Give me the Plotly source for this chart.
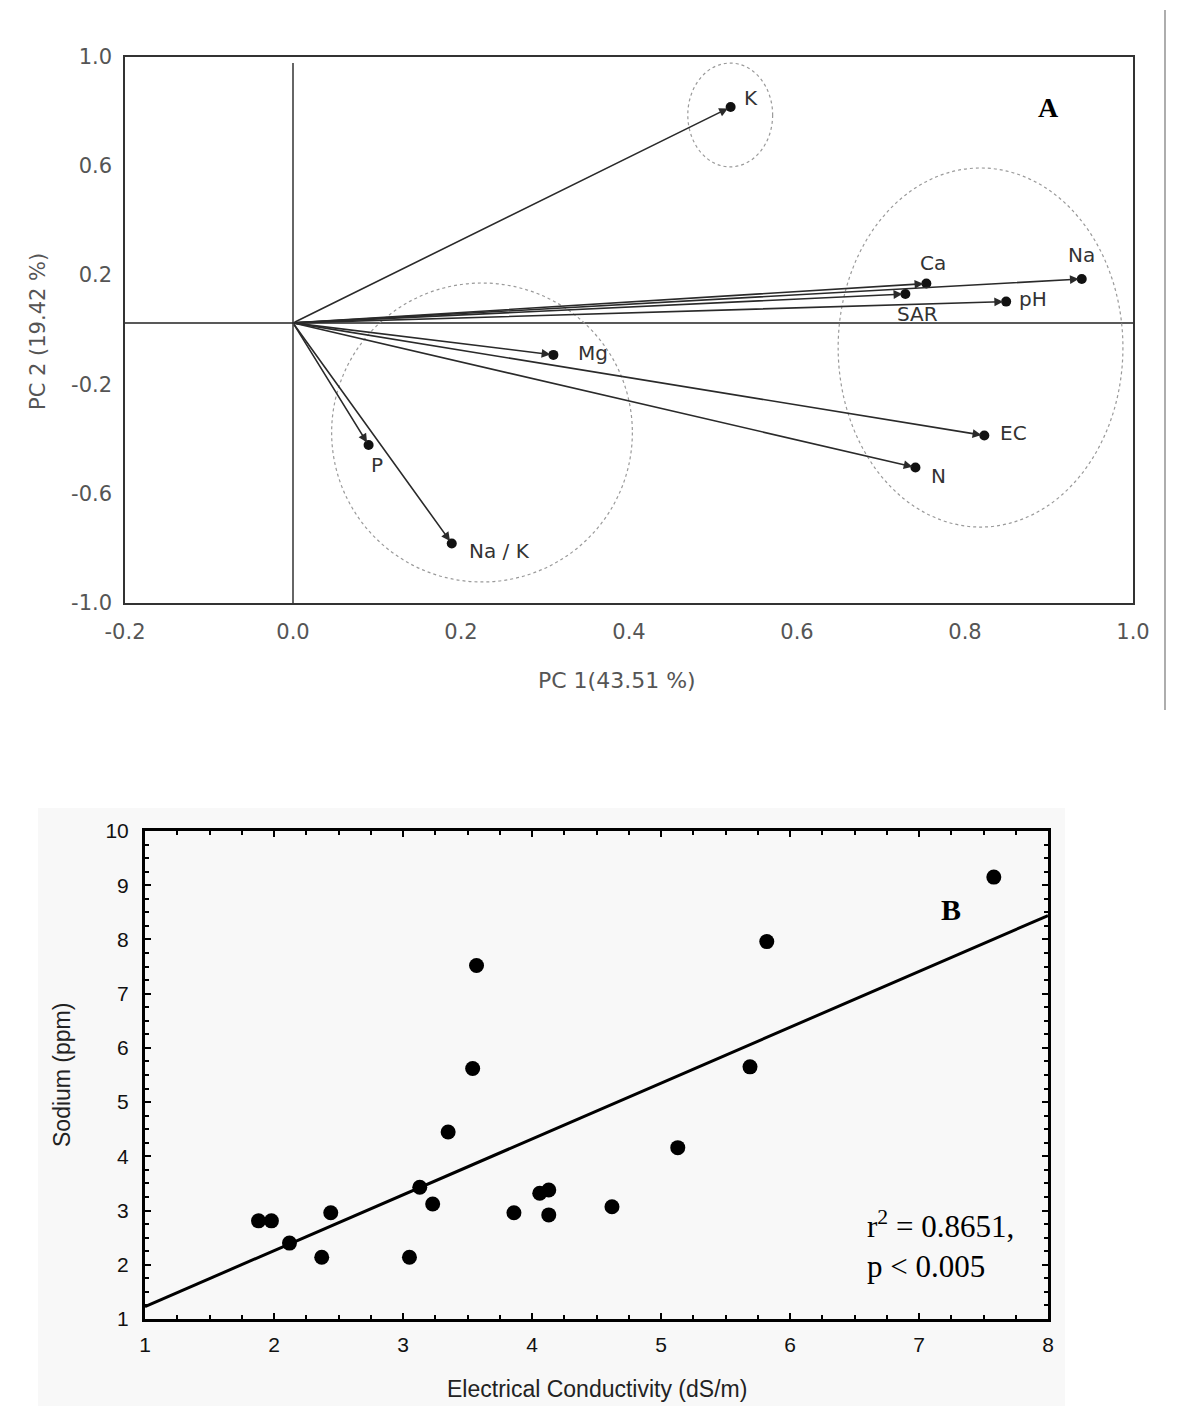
import plotly.graph_objects as go

# ---------------- Panel A data (PCA loadings) ----------------
variables = ["K", "Na", "Ca", "SAR", "pH", "Mg", "EC", "N", "P", "Na / K"]
pc1 = [0.521, 0.939, 0.754, 0.729, 0.849, 0.310, 0.823, 0.741, 0.090, 0.189]
pc2 = [0.815, 0.186, 0.169, 0.131, 0.103, -0.092, -0.387, -0.504, -0.422, -0.782]
origin_pc1 = 0.0
origin_pc2 = 0.025

a_xticks = [-0.2, 0.0, 0.2, 0.4, 0.6, 0.8, 1.0]
a_xticktext = ["-0.2", "0.0", "0.2", "0.4", "0.6", "0.8", "1.0"]
a_yticks = [-1.0, -0.6, -0.2, 0.2, 0.6, 1.0]
a_yticktext = ["-1.0", "-0.6", "-0.2", "0.2", "0.6", "1.0"]

# ---------------- Panel B data ----------------
ec = [1.88, 1.98, 2.12, 2.37, 2.44, 3.05, 3.13, 3.23, 3.35, 3.54,
      3.57, 3.86, 4.06, 4.13, 4.13, 4.62, 5.13, 5.69, 5.82, 7.58]
sodium = [2.81, 2.81, 2.40, 2.14, 2.96, 2.14, 3.43, 3.12, 4.45, 5.62,
          7.52, 2.96, 3.32, 3.38, 2.92, 3.07, 4.16, 5.65, 7.96, 9.15]
fit_x = [1.0, 8.0]
fit_y = [1.23, 8.44]

# ---------------- styling / placement ----------------
label_offsets = {  # pixel offsets of labels from arrow tips
    "K": (20, 9), "Na": (0, 24), "Ca": (7, 21), "SAR": (12, -20), "pH": (27, 3),
    "Mg": (40, 2), "EC": (29, 3), "N": (23, -9), "P": (8, -20), "Na / K": (48, -8),
}
cluster_outlines = [  # x0, x1, y0, y1 in PC coordinates
    (0.470, 0.571, 0.596, 0.976),
    (0.649, 0.988, -0.722, 0.592),
    (0.046, 0.404, -0.923, 0.171),
]

PAD = 8  # default page body margin
W, H = 1200 - 2 * PAD, 1414 - 2 * PAD


def fx(px):
    return (px - PAD) / W


def fy(py):
    return max(0.0, min(1.0, 1 - (py - PAD) / H))


sans = "Liberation Sans, Arial, sans-serif"
sansA = "DejaVu Sans, Verdana, sans-serif"
serif = "Liberation Serif, Times New Roman, serif"

fig = go.Figure()

# Panel A: tip dots
fig.add_trace(go.Scatter(
    x=pc1, y=pc2, mode="markers",
    marker=dict(color="#111111", size=10),
    xaxis="x", yaxis="y", showlegend=False, hoverinfo="text", text=variables))

# Panel B: points and fitted line
fig.add_trace(go.Scatter(
    x=ec, y=sodium, mode="markers",
    marker=dict(color="black", size=15),
    xaxis="x2", yaxis="y2", showlegend=False))
fig.add_trace(go.Scatter(
    x=fit_x, y=fit_y, mode="lines",
    line=dict(color="black", width=3),
    xaxis="x2", yaxis="y2", showlegend=False))

annotations = []
shapes = []

# background box for panel B
shapes.append(dict(type="rect", xref="paper", yref="paper",
                   x0=fx(38), x1=fx(1065), y0=fy(1412), y1=fy(808),
                   fillcolor="#f8f8f8", line=dict(width=0), layer="below"))
# stray right border line of panel A figure
shapes.append(dict(type="line", xref="paper", yref="paper",
                   x0=fx(1165), x1=fx(1165), y0=fy(710), y1=fy(10),
                   line=dict(color="#777777", width=1.2)))

# zero lines panel A
shapes.append(dict(type="line", xref="x", yref="y", x0=origin_pc1, x1=origin_pc1,
                   y0=-1.0, y1=0.976, line=dict(color="#333333", width=1.5)))
shapes.append(dict(type="line", xref="x", yref="y", x0=-0.2, x1=1.006,
                   y0=origin_pc2, y1=origin_pc2, line=dict(color="#222222", width=1.5)))

# cluster ellipses
for (x0, x1, y0, y1) in cluster_outlines:
    shapes.append(dict(type="circle", xref="x", yref="y", x0=x0, x1=x1, y0=y0, y1=y1,
                       line=dict(color="#9a9a9a", width=1.2, dash="dot")))

# arrows + labels
for name, x, y in zip(variables, pc1, pc2):
    annotations.append(dict(
        x=x, y=y, ax=origin_pc1, ay=origin_pc2, xref="x", yref="y",
        axref="x", ayref="y", showarrow=True, arrowhead=2, arrowsize=1.1,
        arrowwidth=1.6, arrowcolor="#2a2a2a", standoff=3, text=""))
    dx, dy = label_offsets[name]
    annotations.append(dict(
        x=x, y=y, xref="x", yref="y", text=name, showarrow=False,
        xanchor="center", yanchor="middle",
        xshift=dx, yshift=dy, font=dict(family=sansA, size=20, color="#333333")))

annotations.append(dict(x=0.899, y=0.812, xref="x", yref="y", text="<b>A</b>",
                        xanchor="center", yanchor="middle",
                        showarrow=False, font=dict(family=serif, size=28, color="black")))

# axis titles panel A
annotations.append(dict(x=fx(617), y=fy(681), xref="paper", yref="paper",
                        xanchor="center", yanchor="middle",
                        text="PC 1(43.51 %)", showarrow=False,
                        font=dict(family=sansA, size=22, color="#555555")))
annotations.append(dict(x=fx(38), y=fy(332), xref="paper", yref="paper",
                        xanchor="center", yanchor="middle",
                        text="PC 2 (19.42 %)", showarrow=False, textangle=-90,
                        font=dict(family=sansA, size=21, color="#555555")))

# Panel B texts
annotations.append(dict(x=7.25, y=8.56, xref="x2", yref="y2", text="<b>B</b>",
                        xanchor="center", yanchor="middle",
                        showarrow=False, font=dict(family=serif, size=30, color="black")))
annotations.append(dict(x=6.58, y=2.37, xref="x2", yref="y2", xanchor="left",
                        yanchor="middle", align="left",
                        text="r<sup>2</sup> = 0.8651,<br>p &lt; 0.005",
                        showarrow=False, font=dict(family=serif, size=31, color="black")))
annotations.append(dict(x=fx(597), y=fy(1389), xref="paper", yref="paper",
                        xanchor="center", yanchor="middle",
                        text="Electrical Conductivity (dS/m)", showarrow=False,
                        font=dict(family=sans, size=23, color="#222222")))
annotations.append(dict(x=fx(62), y=fy(1075), xref="paper", yref="paper",
                        xanchor="center", yanchor="middle",
                        text="Sodium (ppm)", showarrow=False, textangle=-90,
                        font=dict(family=sans, size=23, color="#222222")))

fig.update_layout(
    width=W, height=H,
    margin=dict(l=0, r=0, t=0, b=0, autoexpand=False),
    paper_bgcolor="white", plot_bgcolor="white",
    shapes=shapes, annotations=annotations,
    xaxis=dict(domain=[fx(125), fx(1133)], range=[-0.2, 1.0], anchor="y",
               automargin=False,
               tickvals=a_xticks, ticktext=a_xticktext, showgrid=False, zeroline=False,
               showline=True, linecolor="#333333", linewidth=1.5, mirror=True,
               ticks="", ticklabelstandoff=9,
               tickfont=dict(family=sansA, size=21, color="#555555")),
    yaxis=dict(domain=[fy(603), fy(56.5)], range=[-1.0, 1.0], anchor="x",
               automargin=False,
               tickvals=a_yticks, ticktext=a_yticktext, showgrid=False, zeroline=False,
               showline=True, linecolor="#333333", linewidth=1.5, mirror=True,
               ticks="", ticklabelstandoff=7,
               tickfont=dict(family=sansA, size=21, color="#555555")),
    xaxis2=dict(domain=[fx(145), fx(1048)], range=[1, 8], anchor="y2",
                automargin=False,
                dtick=1, tick0=1, showgrid=False, zeroline=False,
                showline=True, linecolor="black", linewidth=3, mirror="allticks",
                ticks="inside", ticklen=6, tickwidth=2, tickcolor="black",
                ticklabelstandoff=5,
                minor=dict(dtick=0.25, ticks="inside", ticklen=4, tickwidth=1.5,
                           tickcolor="black", showgrid=False),
                tickfont=dict(family=sans, size=21, color="#111111")),
    yaxis2=dict(domain=[fy(1319), fy(831)], range=[1, 10], anchor="x2",
                automargin=False,
                dtick=1, tick0=1, showgrid=False, zeroline=False,
                showline=True, linecolor="black", linewidth=3, mirror="allticks",
                ticks="inside", ticklen=6, tickwidth=2, tickcolor="black",
                ticklabelstandoff=9,
                minor=dict(dtick=0.25, ticks="inside", ticklen=4, tickwidth=1.5,
                           tickcolor="black", showgrid=False),
                tickfont=dict(family=sans, size=21, color="#111111")),
)

fig.write_html("out.html")
